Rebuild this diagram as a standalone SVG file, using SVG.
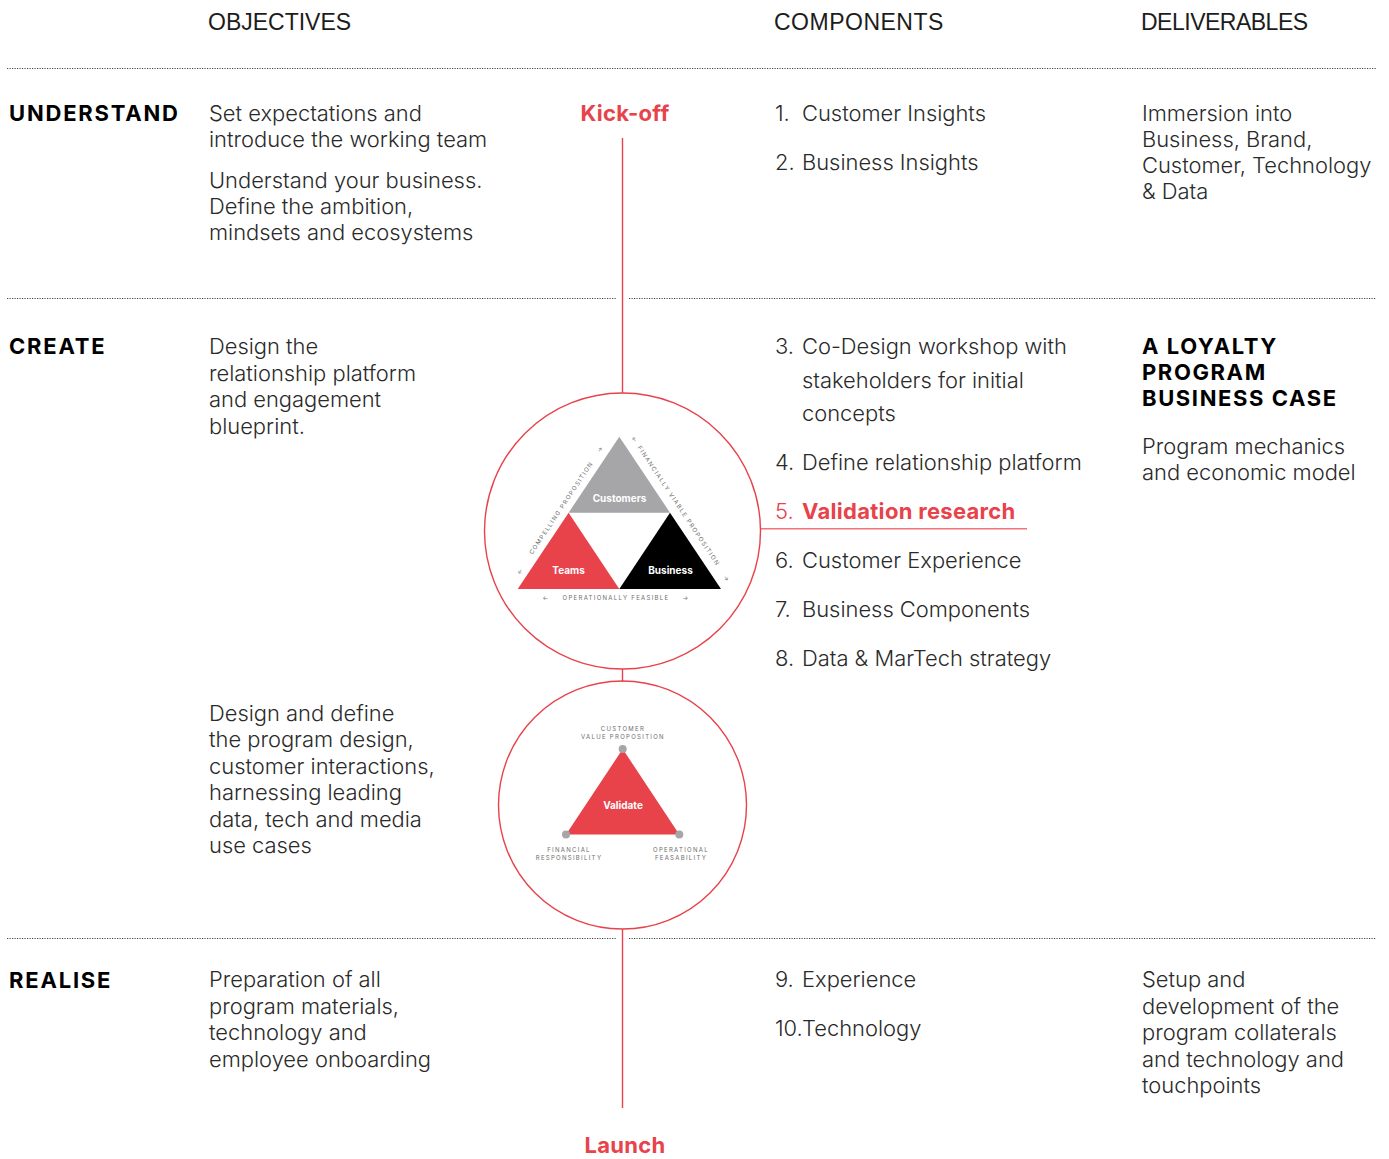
<svg xmlns="http://www.w3.org/2000/svg" width="1389" height="1159" viewBox="0 0 1389 1159">
  <style>
    .hd { font-family: "Liberation Sans", Arial, sans-serif; font-size: 23px; fill: #1c1c1c; }
    .tx { font-family: Inter, "Noto Sans", sans-serif; font-weight: 300; font-size: 21.9px; fill: #2a2a2a; }
    .ph { font-family: Inter, "Noto Sans", sans-serif; font-weight: 700; font-size: 22px; letter-spacing: 1.8px; fill: #000; }
    .dl { font-family: Inter, "Noto Sans", sans-serif; font-weight: 700; font-size: 22px; letter-spacing: 1.6px; fill: #000; }
    .rb { font-family: Inter, "Noto Sans", sans-serif; font-weight: 700; font-size: 22px; letter-spacing: 0.3px; fill: #e8424a; }
    .rl { font-family: Inter, "Noto Sans", sans-serif; font-weight: 300; font-size: 21.9px; fill: #e8424a; }
    .dot { stroke: #444; stroke-width: 1; stroke-dasharray: 1.2 1.3; fill: none; }
    .red { stroke: #e8424a; stroke-width: 1.4; fill: none; }
    .tiny { font-family: Inter, "Noto Sans", sans-serif; font-size: 6px; letter-spacing: 1.3px; fill: #6e6e6e; }
    .lbl { font-family: Inter, "Noto Sans", sans-serif; font-weight: 700; font-size: 10px; fill: #fff; text-anchor: middle; }
  </style>

  <rect width="1389" height="1159" fill="#fff"/>

  <!-- column headers -->
  <g id="headers">
    <text class="hd" x="208" y="30">OBJECTIVES</text>
    <text class="hd" x="774" y="30" letter-spacing="0.5">COMPONENTS</text>
    <text class="hd" x="1141" y="30" letter-spacing="-0.5">DELIVERABLES</text>
  </g>

  <!-- dotted row separators -->
  <g id="separators">
    <line class="dot" x1="7" y1="68.5" x2="1376" y2="68.5"/>
    <line class="dot" x1="7" y1="298.5" x2="617" y2="298.5"/>
    <line class="dot" x1="629" y1="298.5" x2="1376" y2="298.5"/>
    <line class="dot" x1="7" y1="938.5" x2="617" y2="938.5"/>
    <line class="dot" x1="629" y1="938.5" x2="1376" y2="938.5"/>
  </g>

  <!-- timeline connectors -->
  <g id="connectors">
    <line class="red" x1="622.5" y1="138" x2="622.5" y2="393"/>
    <line class="red" x1="622.5" y1="669" x2="622.5" y2="682"/>
    <line class="red" x1="622.5" y1="929" x2="622.5" y2="1108"/>
    <line x1="760" y1="528.7" x2="1027" y2="528.7" stroke="#ef7478" stroke-width="1.4"/>
  </g>

  <!-- UNDERSTAND row -->
  <g id="understand">
    <text class="ph" x="9" y="121">UNDERSTAND</text>
    <text class="tx" x="209" y="121">Set expectations and</text>
    <text class="tx" x="209" y="147">introduce the working team</text>
    <text class="tx" x="209" y="188">Understand your business.</text>
    <text class="tx" x="209" y="214">Define the ambition,</text>
    <text class="tx" x="209" y="240">mindsets and ecosystems</text>
    <text class="rb" x="625" y="121" text-anchor="middle" letter-spacing="1">Kick-off</text>
    <text class="tx" x="775" y="121">1.</text>
    <text class="tx" x="802" y="121">Customer Insights</text>
    <text class="tx" x="775" y="170">2.</text>
    <text class="tx" x="802" y="170">Business Insights</text>
    <text class="tx" x="1142" y="121">Immersion into</text>
    <text class="tx" x="1142" y="147">Business, Brand,</text>
    <text class="tx" x="1142" y="173">Customer, Technology</text>
    <text class="tx" x="1142" y="199">&amp; Data</text>
  </g>

  <!-- CREATE row -->
  <g id="create">
    <text class="ph" x="9" y="354">CREATE</text>
    <text class="tx" x="209" y="354">Design the</text>
    <text class="tx" x="209" y="381">relationship platform</text>
    <text class="tx" x="209" y="407">and engagement</text>
    <text class="tx" x="209" y="434">blueprint.</text>

    <text class="tx" x="775" y="354">3.</text>
    <text class="tx" x="802" y="354">Co-Design workshop with</text>
    <text class="tx" x="802" y="388">stakeholders for initial</text>
    <text class="tx" x="802" y="421">concepts</text>
    <text class="tx" x="775" y="470">4.</text>
    <text class="tx" x="802" y="470">Define relationship platform</text>
    <text class="rl" x="775" y="519">5.</text>
    <text class="rb" x="802" y="519">Validation research</text>
    <text class="tx" x="775" y="568">6.</text>
    <text class="tx" x="802" y="568">Customer Experience</text>
    <text class="tx" x="775" y="617">7.</text>
    <text class="tx" x="802" y="617">Business Components</text>
    <text class="tx" x="775" y="666">8.</text>
    <text class="tx" x="802" y="666">Data &amp; MarTech strategy</text>

    <text class="dl" x="1142" y="354">A LOYALTY</text>
    <text class="dl" x="1142" y="380">PROGRAM</text>
    <text class="dl" x="1142" y="406">BUSINESS CASE</text>
    <text class="tx" x="1142" y="454">Program mechanics</text>
    <text class="tx" x="1142" y="480">and economic model</text>

    <text class="tx" x="209" y="721">Design and define</text>
    <text class="tx" x="209" y="747">the program design,</text>
    <text class="tx" x="209" y="774">customer interactions,</text>
    <text class="tx" x="209" y="800">harnessing leading</text>
    <text class="tx" x="209" y="827">data, tech and media</text>
    <text class="tx" x="209" y="853">use cases</text>
  </g>

  <!-- proposition triangle -->
  <g id="proposition">
    <circle class="red" cx="622.5" cy="531" r="138"/>
    <polygon points="619.3,436.7 670,512.7 568.6,512.7" fill="#a6a6a8"/>
    <polygon points="568.6,512.7 619.3,589 517.7,589" fill="#e8424a"/>
    <polygon points="670,512.7 721,589 619.3,589" fill="#000"/>
    <text class="lbl" x="619.5" y="501.5">Customers</text>
    <text class="lbl" x="568.5" y="573.5">Teams</text>
    <text class="lbl" x="670.5" y="573.5">Business</text>

    <text class="tiny" x="616" y="600" text-anchor="middle" font-size="5.5">OPERATIONALLY FEASIBLE</text>
    <text class="tiny" x="546" y="600" text-anchor="middle" font-size="7">←</text>
    <text class="tiny" x="686" y="600" text-anchor="middle" font-size="7">→</text>

    <text class="tiny" font-size="5.5" text-anchor="middle" transform="translate(563,509) rotate(-56.3)">COMPELLING PROPOSITION</text>
    <text class="tiny" font-size="7" text-anchor="middle" transform="translate(602,450) rotate(-56.3)">→</text>
    <text class="tiny" font-size="7" text-anchor="middle" transform="translate(522,572) rotate(-56.3)">←</text>

    <text class="tiny" font-size="5.5" text-anchor="middle" transform="translate(677,507) rotate(56.3)">FINANCIALLY VIABLE PROPOSITION</text>
    <text class="tiny" font-size="7" text-anchor="middle" transform="translate(633,441) rotate(56.3)">←</text>
    <text class="tiny" font-size="7" text-anchor="middle" transform="translate(725,580) rotate(56.3)">→</text>
  </g>

  <!-- validate triangle -->
  <g id="validate">
    <circle class="red" cx="622.5" cy="805" r="124"/>
    <polygon points="622.7,749 679.3,834.5 566,834.5" fill="#e8424a"/>
    <circle cx="622.7" cy="749" r="4" fill="#a6a6a8"/>
    <circle cx="566" cy="834.5" r="4" fill="#a6a6a8"/>
    <circle cx="679.3" cy="834.5" r="4" fill="#a6a6a8"/>
    <text class="lbl" x="623" y="808.5" font-size="11">Validate</text>
    <text class="tiny" x="623" y="731" text-anchor="middle">CUSTOMER</text>
    <text class="tiny" x="623" y="739" text-anchor="middle">VALUE PROPOSITION</text>
    <text class="tiny" x="569" y="852" text-anchor="middle">FINANCIAL</text>
    <text class="tiny" x="569" y="860" text-anchor="middle">RESPONSIBILITY</text>
    <text class="tiny" x="681" y="852" text-anchor="middle">OPERATIONAL</text>
    <text class="tiny" x="681" y="860" text-anchor="middle">FEASABILITY</text>
  </g>

  <!-- REALISE row -->
  <g id="realise">
    <text class="ph" x="9" y="988">REALISE</text>
    <text class="tx" x="209" y="987">Preparation of all</text>
    <text class="tx" x="209" y="1014">program materials,</text>
    <text class="tx" x="209" y="1040">technology and</text>
    <text class="tx" x="209" y="1067">employee onboarding</text>
    <text class="tx" x="775" y="987">9.</text>
    <text class="tx" x="802" y="987">Experience</text>
    <text class="tx" x="775" y="1036">10.Technology</text>
    <text class="tx" x="1142" y="987">Setup and</text>
    <text class="tx" x="1142" y="1014">development of the</text>
    <text class="tx" x="1142" y="1040">program collaterals</text>
    <text class="tx" x="1142" y="1067">and technology and</text>
    <text class="tx" x="1142" y="1093">touchpoints</text>
    <text class="rb" x="625" y="1153" text-anchor="middle">Launch</text>
  </g>
</svg>
